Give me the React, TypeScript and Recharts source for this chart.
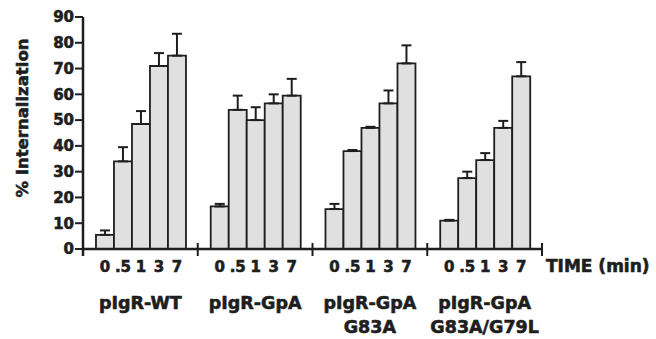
import React from 'react';
import { BarChart, Bar, XAxis, YAxis, ErrorBar, LabelList, Label } from 'recharts';

// groups on the x axis (second line after \n)
const groupNames = ['pIgR-WT', 'pIgR-GpA', 'pIgR-GpA\nG83A', 'pIgR-GpA\nG83A/G79L'];
const timeLabels = ['0', '.5', '1', '3', '7'];
const timeKeys = ['t0', 't05', 't1', 't3', 't7'];

// % internalization per time point, and the upward error
const wtMean = [5.5, 34, 48.5, 71, 75];
const wtErr = [1.7, 5.5, 5, 5, 8.5];
const gpaMean = [16.5, 54, 50, 56.5, 59.5];
const gpaErr = [1, 5.5, 5, 3.5, 6.5];
const g83aMean = [15.5, 38, 47, 56.5, 72];
const g83aErr = [2, 0.4, 0.4, 5, 7];
const g79lMean = [11, 27.5, 34.5, 47, 67];
const g79lErr = [0.3, 2.5, 2.7, 2.7, 5.5];

const yTicks = [0, 10, 20, 30, 40, 50, 60, 70, 80, 90];

const means = [wtMean, gpaMean, g83aMean, g79lMean];
const errs = [wtErr, gpaErr, g83aErr, g79lErr];

const data = groupNames.map((name, g) => {
    const row: Record<string, any> = { name };
    timeKeys.forEach((k, i) => {
        row[k] = means[g][i];
        row[k + '_err'] = [0, errs[g][i]];
    });
    return row;
});

const INK = '#1e1e1e';
const FONT = '"DejaVu Sans", sans-serif';
// the scanned lettering is heavier than DejaVu Bold, so add a thin outline
const heavy = { fontWeight: 'bold' as const, fontFamily: FONT, fill: INK, stroke: INK, strokeWidth: 0.6 };

const GroupTick = (props: any) => {
    const { x, y, payload, index } = props;
    const half = payload.offset || 0;
    const lines = String(payload.value).split('\n');
    return (
        <g>
            {index === 0 && (
                <line x1={x - half} x2={x - half} y1={y} y2={y + 7} stroke={INK} strokeWidth={2.5} />
            )}
            <line x1={x + half} x2={x + half} y1={y - 6} y2={y + 7} stroke={INK} strokeWidth={2} />
            {lines.map((ln, i) => (
                <text key={i} x={x} y={y + 60 + i * 24} textAnchor="middle" fontSize={17.5} {...heavy}>
                    {ln}
                </text>
            ))}
        </g>
    );
};

const timeLabel = (label: string) => (props: any) => {
    const x = props.x ?? props.viewBox?.x;
    const y = props.y ?? props.viewBox?.y;
    const w = props.width ?? props.viewBox?.width;
    const h = props.height ?? props.viewBox?.height;
    return (
        <text x={x + w / 2} y={y + h + 23} textAnchor="middle" fontSize={15} {...heavy}>
            {label}
        </text>
    );
};

export default function App() {
    return (
        <div style={{ position: 'absolute', left: 0, top: 0, background: '#fff' }}>
            <BarChart
                width={656}
                height={339}
                data={data}
                margin={{ top: 17, right: 114, bottom: 0, left: 0 }}
                barCategoryGap="11.3%"
                barGap={0}
            >
                <YAxis
                    width={83}
                    domain={[0, 90]}
                    ticks={yTicks}
                    interval={0}
                    axisLine={{ stroke: INK, strokeWidth: 2.5 }}
                    tickLine={{ stroke: INK, strokeWidth: 2 }}
                    tickSize={8}
                    tickMargin={1}
                    tick={{ fontSize: 15, ...heavy }}
                >
                    <Label
                        content={({ viewBox }: any) => {
                            const cx = viewBox.x + 22;
                            const cy = viewBox.y + viewBox.height / 2 - 15;
                            return (
                                <text
                                    x={cx}
                                    y={cy}
                                    transform={`rotate(-90, ${cx}, ${cy})`}
                                    textAnchor="middle"
                                    dominantBaseline="central"
                                    fontSize={16.5}
                                    {...heavy}
                                >
                                    % Internalization
                                </text>
                            );
                        }}
                    />
                </YAxis>
                <XAxis
                    dataKey="name"
                    height={90}
                    interval={0}
                    axisLine={{ stroke: INK, strokeWidth: 2.5 }}
                    tickLine={false}
                    tickSize={0}
                    tickMargin={0}
                    tick={<GroupTick />}
                >
                    <Label
                        content={({ viewBox }: any) => (
                            <text x={viewBox.x + viewBox.width + 4} y={viewBox.y + 23} fontSize={17} {...heavy}>
                                TIME (min)
                            </text>
                        )}
                    />
                </XAxis>
                {timeKeys.map((k, i) => (
                    <Bar
                        key={k}
                        dataKey={k}
                        fill="#e0e0e0"
                        stroke={INK}
                        strokeWidth={1.8}
                        isAnimationActive={false}
                    >
                        <ErrorBar
                            dataKey={k + '_err'}
                            direction="y"
                            width={5}
                            stroke={INK}
                            strokeWidth={2}
                        />
                        <LabelList dataKey={k} content={timeLabel(timeLabels[i])} />
                    </Bar>
                ))}
            </BarChart>
        </div>
    );
}
